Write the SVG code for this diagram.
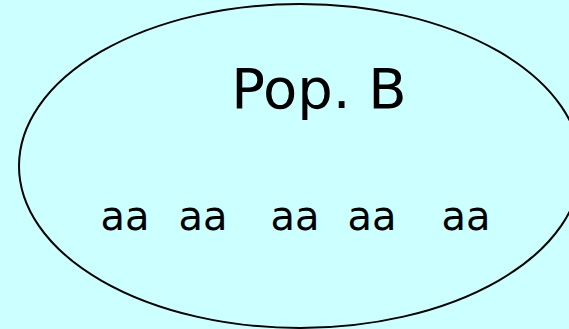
<svg xmlns="http://www.w3.org/2000/svg" width="569" height="329" viewBox="0 0 569 329">
<style>
text{font-family:"DejaVu Sans","Noto Sans",sans-serif;fill:#000;text-anchor:middle}
.g{font-size:40px}
</style>
<rect width="569" height="329" fill="#ccffff"/>
<g id="popB">
<ellipse cx="300" cy="166" rx="281" ry="162" fill="#ccffff" stroke="#000" stroke-width="2"/>
<text x="319" y="108" font-size="56">Pop. B</text>
<text class="g" x="125" y="230">aa</text>
<text class="g" x="203" y="230">aa</text>
<text class="g" x="295" y="230">aa</text>
<text class="g" x="372" y="230">aa</text>
<text class="g" x="466" y="230">aa</text>
</g>
</svg>
